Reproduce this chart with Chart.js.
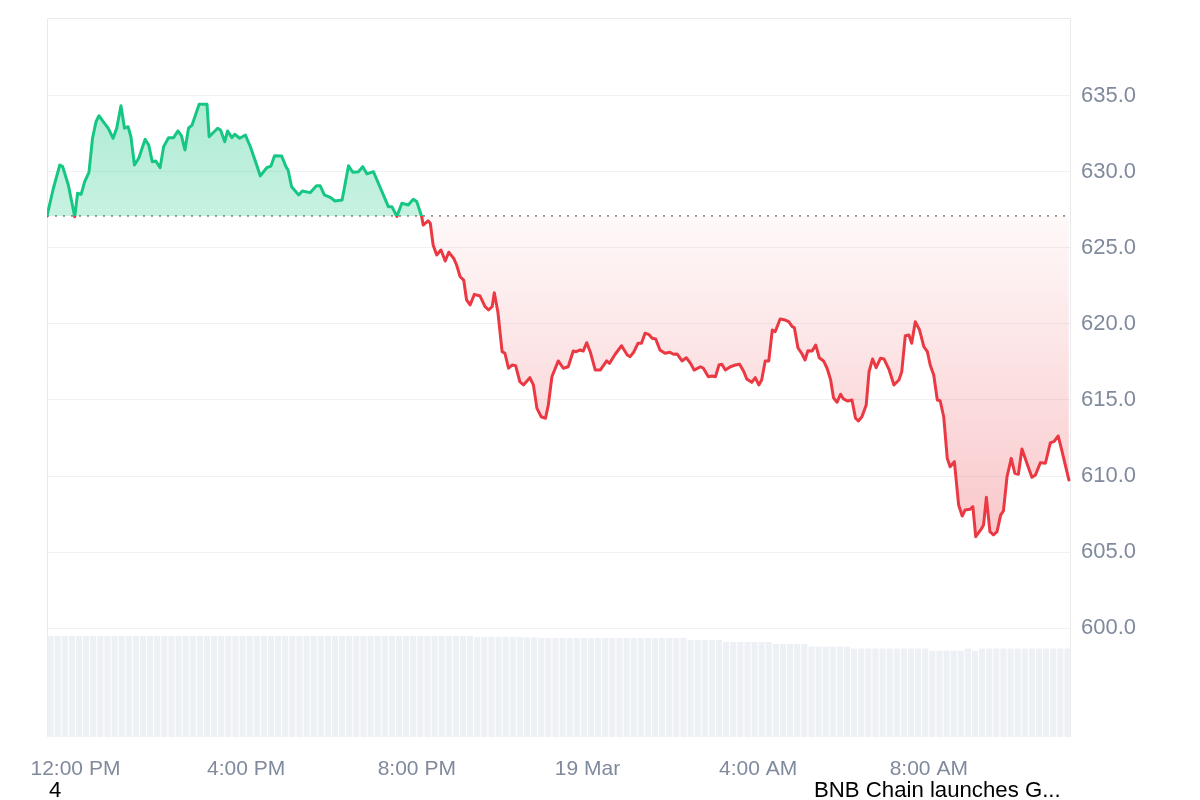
<!DOCTYPE html>
<html>
<head>
<meta charset="utf-8">
<script src="https://cdn.jsdelivr.net/npm/chart.js@4.4.1/dist/chart.umd.min.js"></script>
<style>
  body { margin: 0; background: #fff; }
  #wrap { position: relative; width: 1200px; height: 800px; overflow: hidden; }
  .note { position: absolute; font: 22.2px/22px "Liberation Sans", Arial, sans-serif; color: #000; white-space: nowrap; }
</style>
</head>
<body>
<div id="wrap">
  <canvas id="chart"></canvas>
  <span class="note" style="left:49px; top:779px;">4</span>
  <span class="note" style="left:814px; top:779px;">BNB Chain launches G...</span>
</div>
<script>
// minutes since 11:20 AM (18 Mar) and BNB price
const times = [
  0, 9, 18, 22, 30, 39, 43, 48, 53, 59,
  64, 69, 73, 79, 86, 93, 98, 104, 109, 114,
  118, 123, 129, 138, 143, 148, 153, 159, 164, 171,
  178, 184, 189, 194, 199, 204, 214, 225, 228, 240,
  244, 250, 254, 260, 264, 271, 279, 286, 294, 300,
  309, 315, 320, 330, 336, 339, 344, 354, 359, 370,
  379, 384, 390, 399, 405, 415, 424, 430, 438, 444,
  450, 459, 466, 473, 480, 485, 492, 499, 508, 515,
  520, 527, 529, 536, 539, 543, 548, 554, 560, 565,
  572, 576, 581, 586, 590, 595, 601, 609, 616, 621,
  626, 629, 634, 640, 644, 649, 654, 659, 665, 670,
  679, 684, 689, 695, 701, 705, 710, 719, 726, 733,
  740, 744, 750, 754, 759, 764, 771, 778, 787, 791,
  799, 808, 816, 820, 825, 831, 836, 841, 846, 851,
  856, 862, 869, 876, 881, 886, 893, 899, 905, 910,
  919, 923, 930, 935, 940, 945, 949, 954, 961, 968,
  974, 980, 984, 991, 996, 1001, 1005, 1010, 1015, 1020,
  1024, 1031, 1038, 1043, 1048, 1051, 1056, 1062, 1066, 1070,
  1076, 1081, 1086, 1092, 1097, 1102, 1106, 1111, 1116, 1120,
  1126, 1132, 1137, 1141, 1146, 1152, 1156, 1161, 1166, 1172,
  1177, 1184, 1191, 1198, 1202, 1207, 1212, 1216, 1221, 1227,
  1233, 1238, 1242, 1247, 1252, 1256, 1261, 1266, 1270, 1276,
  1282, 1287, 1291, 1298, 1302, 1306, 1313, 1317, 1321, 1326,
  1331, 1336, 1341, 1345, 1350, 1356, 1361, 1366, 1371, 1378,
  1385, 1390, 1397, 1404, 1411, 1416, 1422, 1427, 1437
];
const prices = [
  627.11, 628.93, 630.46, 630.35, 629.14, 627.05, 628.60, 628.53, 629.36, 629.98,
  632.22, 633.31, 633.70, 633.31, 632.88, 632.22, 632.88, 634.36, 632.88, 632.98,
  632.32, 630.46, 630.90, 632.15, 631.78, 630.68, 630.72, 630.28, 631.66, 632.26,
  632.26, 632.70, 632.39, 631.45, 632.88, 633.09, 634.45, 634.45, 632.32, 632.88,
  632.76, 631.99, 632.70, 632.26, 632.48, 632.22, 632.43, 631.66, 630.57, 629.74,
  630.28, 630.39, 631.07, 631.05, 630.35, 630.13, 629.03, 628.49, 628.75, 628.64,
  629.10, 629.10, 628.49, 628.31, 628.09, 628.16, 630.41, 629.98, 630.02, 630.35,
  629.87, 630.02, 629.26, 628.49, 627.72, 627.72, 627.08, 627.94, 627.83, 628.20,
  628.05, 627.06, 626.51, 626.78, 626.63, 625.20, 624.54, 624.87, 624.14, 624.72,
  624.32, 623.88, 623.11, 622.89, 621.58, 621.25, 621.95, 621.84, 621.14, 620.92,
  621.14, 622.06, 620.81, 618.18, 618.07, 617.09, 617.30, 617.26, 616.20, 615.99,
  616.47, 615.99, 614.45, 613.90, 613.80, 614.67, 616.53, 617.57, 617.09, 617.19,
  618.22, 618.18, 618.29, 618.22, 618.77, 618.16, 616.97, 616.97, 617.57, 617.41,
  618.01, 618.57, 617.96, 617.85, 618.14, 618.73, 618.73, 619.39, 619.32, 619.06,
  619.01, 618.29, 618.07, 618.14, 618.01, 618.03, 617.57, 617.78, 617.41, 616.97,
  617.19, 617.09, 616.53, 616.58, 616.53, 617.30, 617.35, 616.97, 617.19, 617.30,
  617.35, 616.86, 616.38, 616.16, 616.47, 615.99, 616.32, 617.57, 617.57, 619.61,
  619.49, 620.33, 620.26, 620.15, 619.82, 619.76, 618.44, 618.01, 617.63, 618.24,
  618.22, 618.62, 617.78, 617.57, 617.09, 616.32, 615.15, 614.85, 615.38, 615.07,
  614.93, 615.00, 613.80, 613.62, 613.90, 614.67, 616.86, 617.70, 617.13, 617.74,
  617.70, 617.02, 615.99, 616.32, 616.86, 619.23, 619.28, 618.73, 620.15, 619.61,
  618.51, 618.18, 617.30, 616.64, 615.00, 614.95, 613.90, 611.16, 610.61, 610.94,
  608.09, 607.37, 607.76, 607.81, 607.98, 606.01, 606.45, 606.78, 608.60, 606.34,
  606.12, 606.34, 607.43, 607.70, 609.95, 611.16, 610.18, 610.11, 611.78, 610.84,
  609.91, 610.07, 610.88, 610.84, 612.19, 612.26, 612.63, 611.71, 609.74
];
// 24h volume (billions), one bar per 10 minutes
const volumes = [
  1.967, 1.967, 1.967, 1.967, 1.967, 1.967, 1.967, 1.967, 1.967, 1.967, 1.967, 1.967,
  1.967, 1.967, 1.967, 1.967, 1.967, 1.967, 1.967, 1.967, 1.967, 1.967, 1.967, 1.967,
  1.967, 1.967, 1.967, 1.967, 1.967, 1.967, 1.967, 1.967, 1.967, 1.967, 1.967, 1.967,
  1.967, 1.967, 1.967, 1.967, 1.967, 1.967, 1.967, 1.967, 1.967, 1.967, 1.967, 1.967,
  1.967, 1.967, 1.967, 1.967, 1.967, 1.967, 1.967, 1.967, 1.967, 1.967, 1.967, 1.967,
  1.947, 1.947, 1.947, 1.947, 1.947, 1.947, 1.947, 1.940, 1.940, 1.928, 1.928, 1.928,
  1.928, 1.928, 1.928, 1.928, 1.928, 1.928, 1.928, 1.928, 1.928, 1.928, 1.928, 1.928,
  1.928, 1.928, 1.928, 1.928, 1.928, 1.928, 1.889, 1.889, 1.889, 1.889, 1.889, 1.850,
  1.850, 1.850, 1.850, 1.850, 1.850, 1.850, 1.811, 1.811, 1.811, 1.811, 1.811, 1.758,
  1.758, 1.758, 1.758, 1.758, 1.758, 1.723, 1.723, 1.723, 1.723, 1.723, 1.723, 1.723,
  1.723, 1.723, 1.723, 1.723, 1.680, 1.680, 1.680, 1.680, 1.680, 1.720, 1.680, 1.723,
  1.723, 1.723, 1.723, 1.723, 1.723, 1.723, 1.723, 1.723, 1.723, 1.723, 1.723, 1.723
];
const baseline = 627.11;
const yTicks = [600, 605, 610, 615, 620, 625, 630, 635];
const tickTimes = [40, 280, 520, 760, 1000, 1240];
const tickLabels = ['12:00 PM', '4:00 PM', '8:00 PM', '19 Mar', '4:00 AM', '8:00 AM'];

const green = '#16c784';
const red = '#ea3943';
const gray = '#808a9d';

Chart.defaults.font.family = '"Liberation Sans", Arial, sans-serif';

function strokeColor(context) {
    const chart = context.chart;
    const area = chart.chartArea;
    if (!area) return green;
    const yb = chart.scales.y.getPixelForValue(baseline);
    const t = (yb - area.top) / (area.bottom - area.top);
    const g = chart.ctx.createLinearGradient(0, area.top, 0, area.bottom);
    g.addColorStop(0, green);
    g.addColorStop(t, green);
    g.addColorStop(t, red);
    g.addColorStop(1, red);
    return g;
}

function fillColor(context) {
    const chart = context.chart;
    const area = chart.chartArea;
    if (!area) return 'rgba(22,199,132,0.3)';
    const y = chart.scales.y;
    const pos = v => (y.getPixelForValue(v) - area.top) / (area.bottom - area.top);
    const t = pos(baseline);
    const g = chart.ctx.createLinearGradient(0, area.top, 0, area.bottom);
    g.addColorStop(0, 'rgba(22,199,132,0.36)');
    g.addColorStop(pos(Math.max(...prices)), 'rgba(22,199,132,0.34)');
    g.addColorStop(t, 'rgba(22,199,132,0.24)');
    g.addColorStop(t, 'rgba(234,57,67,0.03)');
    g.addColorStop(pos(Math.min(...prices)), 'rgba(234,57,67,0.28)');
    g.addColorStop(1, 'rgba(234,57,67,0.28)');
    return g;
}

// frame round the plot and the dotted open-price line
const framePlugin = {
    id: 'frame',
    beforeDatasetsDraw(chart) {
        const {ctx, chartArea} = chart;
        const {left, right, top, bottom} = chartArea;
        ctx.save();
        ctx.strokeStyle = '#e8eaee';
        ctx.lineWidth = 1;
        ctx.beginPath();
        ctx.moveTo(left + 0.5, bottom);
        ctx.lineTo(left + 0.5, top + 0.5);
        ctx.lineTo(right - 0.5, top + 0.5);
        ctx.lineTo(right - 0.5, bottom);
        ctx.stroke();

        const yb = chart.scales.y.getPixelForValue(baseline);
        ctx.strokeStyle = '#8f8f8f';
        ctx.lineWidth = 1.6;
        ctx.setLineDash([2, 6]);
        ctx.beginPath();
        ctx.moveTo(left, yb);
        ctx.lineTo(right, yb);
        ctx.stroke();
        ctx.restore();
    }
};

const ctx = document.getElementById('chart').getContext('2d');

new Chart(ctx, {
    data: {
        datasets: [
            {
                type: 'line',
                data: prices.map((p, i) => ({x: times[i], y: p})),
                yAxisID: 'y',
                borderColor: strokeColor,
                backgroundColor: fillColor,
                borderWidth: 3,
                borderJoinStyle: 'round',
                borderCapStyle: 'round',
                pointRadius: 0,
                tension: 0,
                fill: {target: {value: baseline}}
            },
            {
                type: 'bar',
                data: volumes.map((v, i) => ({x: i * 10 + 5, y: v})),
                yAxisID: 'yv',
                backgroundColor: '#edf0f4',
                borderWidth: 0,
                barPercentage: 1,
                categoryPercentage: 0.86
            }
        ]
    },
    options: {
        responsive: true,
        maintainAspectRatio: false,
        animation: false,
        events: [],
        layout: {padding: {left: 47, top: 18, right: 0, bottom: 0}},
        plugins: {legend: {display: false}, tooltip: {enabled: false}},
        scales: {
            x: {
                type: 'linear',
                min: 0,
                max: 1440,
                offset: false,
                grid: {display: false, drawTicks: false, offset: false},
                border: {display: false},
                afterBuildTicks: scale => { scale.ticks = tickTimes.map(v => ({value: v})); },
                afterFit: scale => {
                    scale.height = 63;
                    scale.paddingLeft = 0;
                    scale.paddingRight = 0;
                },
                ticks: {
                    color: gray,
                    font: {size: 21},
                    padding: 20,
                    maxRotation: 0,
                    autoSkip: false,
                    callback: (value, index) => tickLabels[index]
                }
            },
            y: {
                position: 'right',
                min: 592.83,
                max: 640.13,
                grid: {color: '#eff2f5', drawTicks: false},
                border: {display: false},
                afterBuildTicks: scale => { scale.ticks = yTicks.map(v => ({value: v})); },
                afterFit: scale => {
                    scale.width = 129;
                    scale.paddingTop = 0;
                    scale.paddingBottom = 0;
                },
                ticks: {
                    color: gray,
                    font: {size: 22},
                    padding: 10,
                    callback: value => value.toFixed(1)
                }
            },
            yv: {
                display: false,
                min: 0,
                max: 14
            }
        }
    },
    plugins: [framePlugin]
});
</script>
</body>
</html>
